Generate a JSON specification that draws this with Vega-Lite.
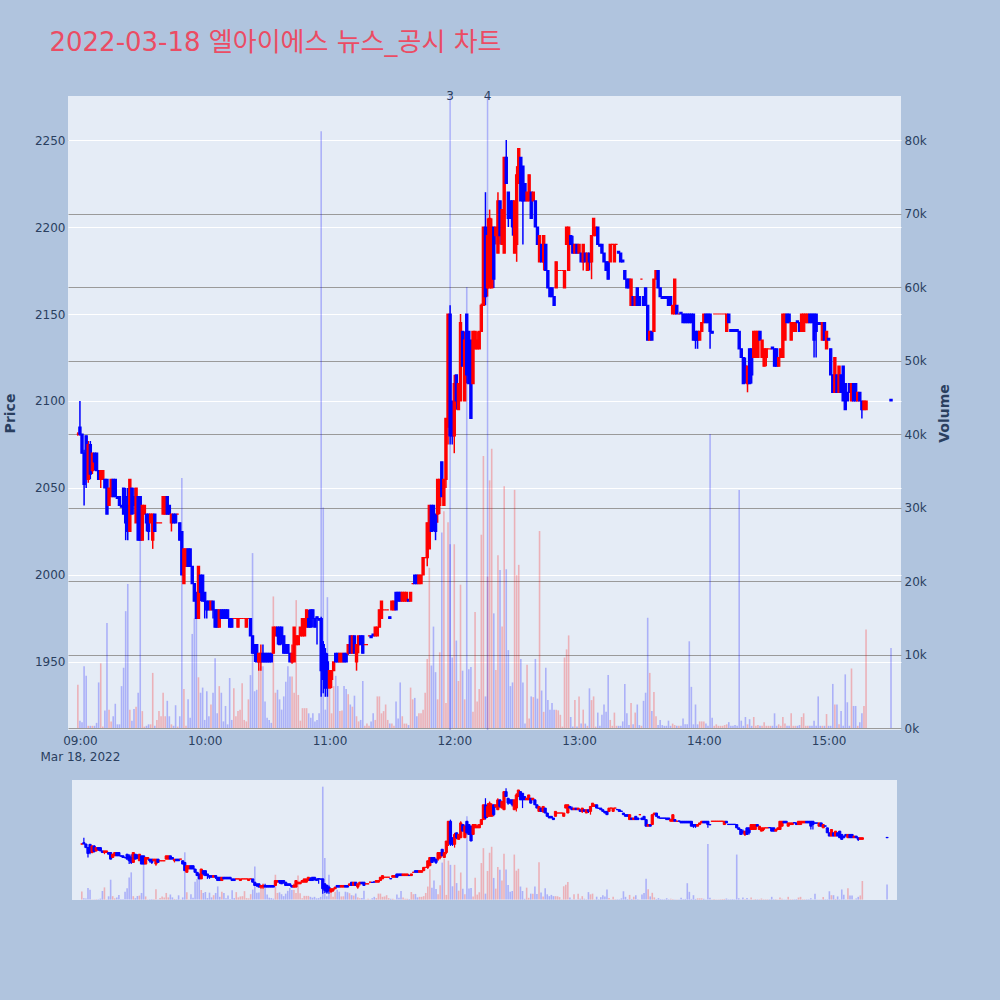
{
"$schema": "https://vega.github.io/schema/vega-lite/v6.json",
"background": "#B0C4DE",
"padding": {"left": 3, "top": 30, "right": 60, "bottom": 110},
"title": {"text": "2022-03-18 엘아이에스 뉴스_공시 차트", "anchor": "start", "fontSize": 26, "font": "DejaVu Sans, Noto Sans CJK KR", "fontWeight": "normal", "color": "#EB4C64", "offset": 34, "dx": 46},
"data": {"format": {"parse": {"t": "utc:'%H:%M'"}}, "values": [
{"t":"08:59","o":2081,"h":2082,"l":2080,"c":2081,"v":5900},
{"t":"09:00","o":2085,"h":2100,"l":2080,"c":2081,"v":1000},
{"t":"09:01","o":2081,"h":2081,"l":2070,"c":2070,"v":800},
{"t":"09:02","o":2070,"h":2072,"l":2040,"c":2052,"v":8400},
{"t":"09:03","o":2080,"h":2080,"l":2050,"c":2055,"v":7100},
{"t":"09:04","o":2055,"h":2077,"l":2053,"c":2075,"v":300},
{"t":"09:05","o":2075,"h":2077,"l":2055,"c":2058,"v":300},
{"t":"09:06","o":2060,"h":2070,"l":2058,"c":2070,"v":300},
{"t":"09:07","o":2070,"h":2070,"l":2060,"c":2065,"v":300},
{"t":"09:08","o":2070,"h":2070,"l":2060,"c":2060,"v":700},
{"t":"09:09","o":2060,"h":2060,"l":2055,"c":2055,"v":6200},
{"t":"09:10","o":2055,"h":2060,"l":2050,"c":2060,"v":8800},
{"t":"09:11","o":2055,"h":2060,"l":2055,"c":2060,"v":200},
{"t":"09:12","o":2055,"h":2055,"l":2050,"c":2050,"v":2400},
{"t":"09:13","o":2055,"h":2055,"l":2035,"c":2035,"v":14300},
{"t":"09:14","o":2040,"h":2050,"l":2040,"c":2050,"v":2500},
{"t":"09:15","o":2045,"h":2055,"l":2045,"c":2055,"v":900},
{"t":"09:16","o":2055,"h":2055,"l":2045,"c":2045,"v":1600},
{"t":"09:17","o":2055,"h":2055,"l":2045,"c":2045,"v":3300},
{"t":"09:18","o":2045,"h":2045,"l":2044,"c":2044,"v":500},
{"t":"09:19","o":2045,"h":2045,"l":2040,"c":2040,"v":500},
{"t":"09:20","o":2040,"h":2040,"l":2039,"c":2039,"v":5700},
{"t":"09:21","o":2050,"h":2050,"l":2035,"c":2035,"v":8200},
{"t":"09:22","o":2045,"h":2050,"l":2020,"c":2030,"v":15900},
{"t":"09:23","o":2040,"h":2050,"l":2020,"c":2025,"v":19600},
{"t":"09:24","o":2025,"h":2055,"l":2025,"c":2055,"v":2500},
{"t":"09:25","o":2050,"h":2050,"l":2035,"c":2035,"v":1000},
{"t":"09:26","o":2045,"h":2050,"l":2035,"c":2040,"v":2600},
{"t":"09:27","o":2030,"h":2050,"l":2030,"c":2050,"v":2900},
{"t":"09:28","o":2045,"h":2045,"l":2020,"c":2020,"v":4800},
{"t":"09:29","o":2045,"h":2045,"l":2020,"c":2020,"v":31000},
{"t":"09:30","o":2020,"h":2040,"l":2020,"c":2040,"v":2300},
{"t":"09:31","o":2035,"h":2040,"l":2035,"c":2040,"v":200},
{"t":"09:32","o":2035,"h":2035,"l":2025,"c":2030,"v":300},
{"t":"09:33","o":2035,"h":2035,"l":2020,"c":2025,"v":500},
{"t":"09:34","o":2030,"h":2035,"l":2030,"c":2035,"v":500},
{"t":"09:35","o":2020,"h":2035,"l":2015,"c":2035,"v":7500},
{"t":"09:36","o":2035,"h":2035,"l":2025,"c":2025,"v":300},
{"t":"09:37","o":2030,"h":2030,"l":2030,"c":2030,"v":1100},
{"t":"09:38","o":2030,"h":2030,"l":2030,"c":2030,"v":2300},
{"t":"09:39","o":2030,"h":2030,"l":2030,"c":2030,"v":1600},
{"t":"09:40","o":2035,"h":2045,"l":2035,"c":2045,"v":4800},
{"t":"09:41","o":2035,"h":2045,"l":2035,"c":2045,"v":1600},
{"t":"09:42","o":2045,"h":2045,"l":2035,"c":2035,"v":3700},
{"t":"09:43","o":2040,"h":2040,"l":2035,"c":2035,"v":1600},
{"t":"09:44","o":2030,"h":2035,"l":2025,"c":2035,"v":500},
{"t":"09:45","o":2035,"h":2035,"l":2030,"c":2030,"v":300},
{"t":"09:46","o":2035,"h":2035,"l":2030,"c":2030,"v":3100},
{"t":"09:47","o":2035,"h":2035,"l":2035,"c":2035,"v":200},
{"t":"09:48","o":2030,"h":2030,"l":2020,"c":2020,"v":1600},
{"t":"09:49","o":2025,"h":2025,"l":2000,"c":2000,"v":34000},
{"t":"09:50","o":1995,"h":2015,"l":1995,"c":2015,"v":5300},
{"t":"09:51","o":2005,"h":2015,"l":2005,"c":2015,"v":300},
{"t":"09:52","o":2015,"h":2015,"l":2005,"c":2005,"v":3900},
{"t":"09:53","o":2015,"h":2015,"l":2005,"c":2005,"v":1400},
{"t":"09:54","o":2005,"h":2005,"l":1995,"c":1995,"v":12800},
{"t":"09:55","o":1995,"h":1995,"l":1985,"c":1985,"v":14900},
{"t":"09:56","o":1990,"h":1990,"l":1975,"c":1975,"v":14900},
{"t":"09:57","o":1975,"h":2005,"l":1975,"c":2005,"v":6900},
{"t":"09:58","o":2000,"h":2000,"l":1985,"c":1990,"v":4800},
{"t":"09:59","o":2000,"h":2000,"l":1985,"c":1985,"v":5500},
{"t":"10:00","o":1990,"h":1990,"l":1975,"c":1985,"v":1100},
{"t":"10:01","o":1985,"h":1985,"l":1975,"c":1980,"v":5000},
{"t":"10:02","o":1985,"h":1985,"l":1980,"c":1980,"v":1600},
{"t":"10:03","o":1980,"h":1985,"l":1980,"c":1985,"v":3200},
{"t":"10:04","o":1985,"h":1985,"l":1975,"c":1980,"v":4800},
{"t":"10:05","o":1980,"h":1980,"l":1970,"c":1970,"v":9500},
{"t":"10:06","o":1980,"h":1980,"l":1970,"c":1970,"v":2000},
{"t":"10:07","o":1970,"h":1980,"l":1970,"c":1980,"v":5700},
{"t":"10:08","o":1980,"h":1980,"l":1975,"c":1975,"v":4800},
{"t":"10:09","o":1980,"h":1980,"l":1975,"c":1975,"v":900},
{"t":"10:10","o":1980,"h":1980,"l":1975,"c":1975,"v":3000},
{"t":"10:11","o":1980,"h":1980,"l":1975,"c":1975,"v":500},
{"t":"10:12","o":1975,"h":1975,"l":1970,"c":1970,"v":6800},
{"t":"10:13","o":1975,"h":1975,"l":1970,"c":1970,"v":1100},
{"t":"10:14","o":1975,"h":1975,"l":1975,"c":1975,"v":5400},
{"t":"10:15","o":1975,"h":1975,"l":1975,"c":1975,"v":1600},
{"t":"10:16","o":1970,"h":1975,"l":1970,"c":1975,"v":2300},
{"t":"10:17","o":1975,"h":1975,"l":1975,"c":1975,"v":2500},
{"t":"10:18","o":1975,"h":1975,"l":1975,"c":1975,"v":6100},
{"t":"10:19","o":1975,"h":1975,"l":1975,"c":1975,"v":1100},
{"t":"10:20","o":1970,"h":1975,"l":1970,"c":1975,"v":900},
{"t":"10:21","o":1975,"h":1975,"l":1975,"c":1975,"v":3900},
{"t":"10:22","o":1975,"h":1975,"l":1965,"c":1965,"v":7200},
{"t":"10:23","o":1965,"h":1965,"l":1955,"c":1955,"v":23800},
{"t":"10:24","o":1960,"h":1960,"l":1950,"c":1955,"v":5000},
{"t":"10:25","o":1960,"h":1960,"l":1950,"c":1950,"v":5200},
{"t":"10:26","o":1950,"h":1955,"l":1945,"c":1955,"v":8200},
{"t":"10:27","o":1950,"h":1960,"l":1945,"c":1955,"v":8400},
{"t":"10:28","o":1955,"h":1960,"l":1950,"c":1950,"v":8400},
{"t":"10:29","o":1955,"h":1955,"l":1950,"c":1950,"v":3600},
{"t":"10:30","o":1955,"h":1955,"l":1950,"c":1950,"v":1400},
{"t":"10:31","o":1955,"h":1955,"l":1950,"c":1950,"v":1100},
{"t":"10:32","o":1955,"h":1955,"l":1950,"c":1950,"v":700},
{"t":"10:33","o":1955,"h":1970,"l":1955,"c":1970,"v":17900},
{"t":"10:34","o":1965,"h":1970,"l":1965,"c":1970,"v":4800},
{"t":"10:35","o":1970,"h":1970,"l":1960,"c":1965,"v":5200},
{"t":"10:36","o":1970,"h":1970,"l":1960,"c":1960,"v":3900},
{"t":"10:37","o":1970,"h":1970,"l":1960,"c":1965,"v":2500},
{"t":"10:38","o":1965,"h":1965,"l":1955,"c":1955,"v":4300},
{"t":"10:39","o":1960,"h":1960,"l":1955,"c":1955,"v":6300},
{"t":"10:40","o":1960,"h":1960,"l":1955,"c":1955,"v":8400},
{"t":"10:41","o":1955,"h":1955,"l":1950,"c":1950,"v":7000},
{"t":"10:42","o":1950,"h":1960,"l":1949,"c":1955,"v":7000},
{"t":"10:43","o":1950,"h":1970,"l":1950,"c":1970,"v":4800},
{"t":"10:44","o":1960,"h":1965,"l":1960,"c":1965,"v":17400},
{"t":"10:45","o":1960,"h":1965,"l":1960,"c":1965,"v":4500},
{"t":"10:46","o":1965,"h":1970,"l":1965,"c":1970,"v":1000},
{"t":"10:47","o":1965,"h":1975,"l":1965,"c":1975,"v":2700},
{"t":"10:48","o":1965,"h":1975,"l":1965,"c":1975,"v":2700},
{"t":"10:49","o":1970,"h":1980,"l":1970,"c":1980,"v":2700},
{"t":"10:50","o":1975,"h":1980,"l":1970,"c":1970,"v":2000},
{"t":"10:51","o":1980,"h":1980,"l":1970,"c":1970,"v":1400},
{"t":"10:52","o":1980,"h":1980,"l":1970,"c":1975,"v":2000},
{"t":"10:53","o":1975,"h":1975,"l":1970,"c":1970,"v":900},
{"t":"10:54","o":1976,"h":1976,"l":1960,"c":1975,"v":1100},
{"t":"10:55","o":1975,"h":1975,"l":1974,"c":1974,"v":2000},
{"t":"10:56","o":1975,"h":1976,"l":1930,"c":1945,"v":81200},
{"t":"10:57","o":1960,"h":1962,"l":1932,"c":1940,"v":30000},
{"t":"10:58","o":1955,"h":1958,"l":1930,"c":1935,"v":2500},
{"t":"10:59","o":1950,"h":1955,"l":1930,"c":1940,"v":17800},
{"t":"11:00","o":1935,"h":1945,"l":1935,"c":1945,"v":5300},
{"t":"11:01","o":1940,"h":1945,"l":1935,"c":1945,"v":2000},
{"t":"11:02","o":1945,"h":1950,"l":1945,"c":1950,"v":5700},
{"t":"11:03","o":1955,"h":1955,"l":1950,"c":1950,"v":7100},
{"t":"11:04","o":1955,"h":1955,"l":1950,"c":1950,"v":5700},
{"t":"11:05","o":1950,"h":1955,"l":1950,"c":1955,"v":2300},
{"t":"11:06","o":1950,"h":1955,"l":1950,"c":1955,"v":2400},
{"t":"11:07","o":1955,"h":1955,"l":1950,"c":1950,"v":5700},
{"t":"11:08","o":1955,"h":1955,"l":1950,"c":1950,"v":5300},
{"t":"11:09","o":1955,"h":1960,"l":1954,"c":1960,"v":4600},
{"t":"11:10","o":1965,"h":1965,"l":1955,"c":1955,"v":3200},
{"t":"11:11","o":1955,"h":1965,"l":1955,"c":1965,"v":2900},
{"t":"11:12","o":1965,"h":1965,"l":1955,"c":1955,"v":4400},
{"t":"11:13","o":1950,"h":1960,"l":1945,"c":1960,"v":1600},
{"t":"11:14","o":1960,"h":1965,"l":1955,"c":1965,"v":900},
{"t":"11:15","o":1965,"h":1965,"l":1960,"c":1960,"v":1100},
{"t":"11:16","o":1965,"h":1965,"l":1955,"c":1955,"v":6400},
{"t":"11:17","o":1960,"h":1960,"l":1960,"c":1960,"v":300},
{"t":"11:18","o":1960,"h":1960,"l":1960,"c":1960,"v":600},
{"t":"11:19","o":1965,"h":1965,"l":1965,"c":1965,"v":300},
{"t":"11:20","o":1965,"h":1965,"l":1964,"c":1964,"v":900},
{"t":"11:21","o":1966,"h":1966,"l":1965,"c":1965,"v":2000},
{"t":"11:22","o":1965,"h":1970,"l":1965,"c":1970,"v":1100},
{"t":"11:23","o":1965,"h":1970,"l":1965,"c":1970,"v":4300},
{"t":"11:24","o":1970,"h":1980,"l":1970,"c":1980,"v":4300},
{"t":"11:25","o":1975,"h":1985,"l":1975,"c":1985,"v":2000},
{"t":"11:26","o":1980,"h":1980,"l":1980,"c":1980,"v":2300},
{"t":"11:27","o":1980,"h":1980,"l":1980,"c":1980,"v":3200},
{"t":"11:28","o":1980,"h":1980,"l":1980,"c":1980,"v":1100},
{"t":"11:29","o":1976,"h":1976,"l":1975,"c":1975,"v":600},
{"t":"11:30","o":1980,"h":1985,"l":1980,"c":1985,"v":600},
{"t":"11:31","o":1980,"h":1985,"l":1980,"c":1985,"v":300},
{"t":"11:32","o":1990,"h":1990,"l":1980,"c":1980,"v":3600},
{"t":"11:33","o":1990,"h":1990,"l":1985,"c":1985,"v":1300},
{"t":"11:34","o":1990,"h":1990,"l":1985,"c":1985,"v":6200},
{"t":"11:35","o":1985,"h":1990,"l":1985,"c":1990,"v":1600},
{"t":"11:36","o":1985,"h":1990,"l":1985,"c":1990,"v":600},
{"t":"11:37","o":1985,"h":1990,"l":1985,"c":1990,"v":600},
{"t":"11:38","o":1986,"h":1986,"l":1985,"c":1985,"v":400},
{"t":"11:39","o":1985,"h":1990,"l":1985,"c":1990,"v":5500},
{"t":"11:40","o":1995,"h":1995,"l":1995,"c":1995,"v":3900},
{"t":"11:41","o":2000,"h":2000,"l":1995,"c":1995,"v":4100},
{"t":"11:42","o":2000,"h":2000,"l":1995,"c":1995,"v":1600},
{"t":"11:43","o":1995,"h":2000,"l":1995,"c":2000,"v":2000},
{"t":"11:44","o":1995,"h":2000,"l":1995,"c":2000,"v":2000},
{"t":"11:45","o":2000,"h":2010,"l":2000,"c":2010,"v":2500},
{"t":"11:46","o":2010,"h":2010,"l":2010,"c":2010,"v":4800},
{"t":"11:47","o":2010,"h":2030,"l":2005,"c":2030,"v":9400},
{"t":"11:48","o":2015,"h":2040,"l":2015,"c":2040,"v":21800},
{"t":"11:49","o":2040,"h":2040,"l":2025,"c":2025,"v":8500},
{"t":"11:50","o":2040,"h":2040,"l":2025,"c":2030,"v":13800},
{"t":"11:51","o":2035,"h":2035,"l":2020,"c":2025,"v":7600},
{"t":"11:52","o":2035,"h":2055,"l":2030,"c":2055,"v":3900},
{"t":"11:53","o":2040,"h":2055,"l":2035,"c":2055,"v":10300},
{"t":"11:54","o":2065,"h":2065,"l":2045,"c":2045,"v":26600},
{"t":"11:55","o":2040,"h":2055,"l":2040,"c":2055,"v":29500},
{"t":"11:56","o":2055,"h":2090,"l":2050,"c":2090,"v":3400},
{"t":"11:57","o":2085,"h":2150,"l":2075,"c":2150,"v":28000},
{"t":"11:58","o":2150,"h":2155,"l":2075,"c":2080,"v":25000,"n":"3"},
{"t":"11:59","o":2100,"h":2100,"l":2075,"c":2080,"v":9600},
{"t":"12:00","o":2080,"h":2115,"l":2070,"c":2110,"v":25000},
{"t":"12:01","o":2115,"h":2115,"l":2095,"c":2100,"v":11900},
{"t":"12:02","o":2095,"h":2110,"l":2095,"c":2110,"v":6400},
{"t":"12:03","o":2100,"h":2150,"l":2100,"c":2145,"v":19500},
{"t":"12:04","o":2140,"h":2140,"l":2120,"c":2120,"v":7800},
{"t":"12:05","o":2100,"h":2140,"l":2100,"c":2135,"v":3900},
{"t":"12:06","o":2150,"h":2150,"l":2110,"c":2115,"v":60000},
{"t":"12:07","o":2140,"h":2140,"l":2110,"c":2110,"v":8000},
{"t":"12:08","o":2135,"h":2135,"l":2090,"c":2090,"v":8300},
{"t":"12:09","o":2110,"h":2140,"l":2110,"c":2140,"v":2200},
{"t":"12:10","o":2130,"h":2140,"l":2130,"c":2140,"v":15800},
{"t":"12:11","o":2130,"h":2140,"l":2130,"c":2135,"v":3600},
{"t":"12:12","o":2130,"h":2140,"l":2130,"c":2140,"v":5300},
{"t":"12:13","o":2140,"h":2156,"l":2140,"c":2155,"v":26300},
{"t":"12:14","o":2155,"h":2200,"l":2155,"c":2200,"v":37000},
{"t":"12:15","o":2200,"h":2220,"l":2155,"c":2160,"v":4300},
{"t":"12:16","o":2165,"h":2205,"l":2160,"c":2195,"v":20600,"n":"4"},
{"t":"12:17","o":2165,"h":2210,"l":2165,"c":2205,"v":33700},
{"t":"12:18","o":2165,"h":2205,"l":2165,"c":2200,"v":38000},
{"t":"12:19","o":2200,"h":2200,"l":2165,"c":2170,"v":15600},
{"t":"12:20","o":2195,"h":2200,"l":2190,"c":2200,"v":7900},
{"t":"12:21","o":2185,"h":2220,"l":2185,"c":2215,"v":23500},
{"t":"12:22","o":2215,"h":2215,"l":2190,"c":2195,"v":21500},
{"t":"12:23","o":2190,"h":2210,"l":2190,"c":2210,"v":13800},
{"t":"12:24","o":2185,"h":2240,"l":2185,"c":2240,"v":32900},
{"t":"12:25","o":2240,"h":2250,"l":2225,"c":2225,"v":21600},
{"t":"12:26","o":2220,"h":2220,"l":2200,"c":2205,"v":10600},
{"t":"12:27","o":2215,"h":2215,"l":2205,"c":2205,"v":5700},
{"t":"12:28","o":2215,"h":2215,"l":2195,"c":2200,"v":6200},
{"t":"12:29","o":2185,"h":2215,"l":2185,"c":2215,"v":32400},
{"t":"12:30","o":2190,"h":2235,"l":2180,"c":2230,"v":20800},
{"t":"12:31","o":2225,"h":2245,"l":2225,"c":2245,"v":22200},
{"t":"12:32","o":2240,"h":2240,"l":2215,"c":2215,"v":9400},
{"t":"12:33","o":2235,"h":2235,"l":2190,"c":2215,"v":6200},
{"t":"12:34","o":2225,"h":2225,"l":2215,"c":2215,"v":600},
{"t":"12:35","o":2215,"h":2220,"l":2215,"c":2220,"v":8600},
{"t":"12:36","o":2215,"h":2230,"l":2215,"c":2230,"v":1300},
{"t":"12:37","o":2220,"h":2220,"l":2205,"c":2205,"v":4300},
{"t":"12:38","o":2215,"h":2220,"l":2215,"c":2220,"v":4200},
{"t":"12:39","o":2215,"h":2215,"l":2200,"c":2200,"v":9400},
{"t":"12:40","o":2200,"h":2200,"l":2190,"c":2190,"v":4000},
{"t":"12:41","o":2180,"h":2195,"l":2180,"c":2195,"v":26800},
{"t":"12:42","o":2190,"h":2190,"l":2180,"c":2180,"v":5100},
{"t":"12:43","o":2180,"h":2195,"l":2175,"c":2195,"v":2200},
{"t":"12:44","o":2190,"h":2190,"l":2175,"c":2175,"v":8200},
{"t":"12:45","o":2175,"h":2175,"l":2165,"c":2165,"v":3800},
{"t":"12:46","o":2165,"h":2165,"l":2160,"c":2160,"v":2500},
{"t":"12:47","o":2165,"h":2165,"l":2160,"c":2160,"v":3400},
{"t":"12:48","o":2160,"h":2160,"l":2155,"c":2155,"v":2500},
{"t":"12:49","o":2165,"h":2180,"l":2165,"c":2180,"v":2500},
{"t":"12:50","o":2175,"h":2175,"l":2175,"c":2175,"v":2400},
{"t":"12:51","o":2175,"h":2175,"l":2175,"c":2175,"v":1800},
{"t":"12:52","o":2175,"h":2175,"l":2175,"c":2175,"v":200},
{"t":"12:53","o":2165,"h":2175,"l":2165,"c":2175,"v":9600},
{"t":"12:54","o":2190,"h":2200,"l":2190,"c":2200,"v":10700},
{"t":"12:55","o":2175,"h":2200,"l":2175,"c":2200,"v":12600},
{"t":"12:56","o":2195,"h":2195,"l":2190,"c":2190,"v":1500},
{"t":"12:57","o":2190,"h":2195,"l":2185,"c":2185,"v":200},
{"t":"12:58","o":2185,"h":2190,"l":2185,"c":2190,"v":3800},
{"t":"12:59","o":2190,"h":2190,"l":2185,"c":2185,"v":200},
{"t":"13:00","o":2185,"h":2190,"l":2185,"c":2190,"v":4300},
{"t":"13:01","o":2185,"h":2185,"l":2180,"c":2180,"v":600},
{"t":"13:02","o":2180,"h":2190,"l":2175,"c":2190,"v":2500},
{"t":"13:03","o":2185,"h":2185,"l":2180,"c":2180,"v":600},
{"t":"13:04","o":2175,"h":2185,"l":2175,"c":2185,"v":300},
{"t":"13:05","o":2185,"h":2185,"l":2175,"c":2180,"v":5400},
{"t":"13:06","o":2180,"h":2195,"l":2170,"c":2195,"v":3800},
{"t":"13:07","o":2195,"h":2205,"l":2195,"c":2205,"v":4300},
{"t":"13:08","o":2195,"h":2200,"l":2195,"c":2200,"v":200},
{"t":"13:09","o":2200,"h":2200,"l":2190,"c":2190,"v":2100},
{"t":"13:10","o":2190,"h":2190,"l":2189,"c":2189,"v":300},
{"t":"13:11","o":2190,"h":2190,"l":2185,"c":2185,"v":1800},
{"t":"13:12","o":2185,"h":2185,"l":2180,"c":2180,"v":3200},
{"t":"13:13","o":2180,"h":2180,"l":2175,"c":2175,"v":2200},
{"t":"13:14","o":2180,"h":2180,"l":2170,"c":2170,"v":7200},
{"t":"13:15","o":2180,"h":2190,"l":2180,"c":2190,"v":1100},
{"t":"13:16","o":2190,"h":2190,"l":2190,"c":2190,"v":300},
{"t":"13:17","o":2180,"h":2190,"l":2180,"c":2190,"v":2100},
{"t":"13:18","o":2190,"h":2190,"l":2190,"c":2190,"v":300},
{"t":"13:19","o":2186,"h":2186,"l":2185,"c":2185,"v":300},
{"t":"13:20","o":2185,"h":2185,"l":2180,"c":2180,"v":300},
{"t":"13:21","o":2181,"h":2181,"l":2180,"c":2180,"v":900},
{"t":"13:22","o":2175,"h":2175,"l":2170,"c":2170,"v":6000},
{"t":"13:23","o":2170,"h":2170,"l":2165,"c":2165,"v":2000},
{"t":"13:24","o":2170,"h":2170,"l":2165,"c":2165,"v":400},
{"t":"13:25","o":2155,"h":2170,"l":2155,"c":2170,"v":3400},
{"t":"13:26","o":2160,"h":2160,"l":2155,"c":2155,"v":500},
{"t":"13:27","o":2155,"h":2160,"l":2155,"c":2160,"v":2100},
{"t":"13:28","o":2165,"h":2165,"l":2155,"c":2155,"v":3200},
{"t":"13:29","o":2160,"h":2160,"l":2155,"c":2155,"v":400},
{"t":"13:30","o":2170,"h":2170,"l":2170,"c":2170,"v":300},
{"t":"13:31","o":2160,"h":2160,"l":2155,"c":2155,"v":3700},
{"t":"13:32","o":2165,"h":2165,"l":2155,"c":2155,"v":4800},
{"t":"13:33","o":2155,"h":2155,"l":2135,"c":2135,"v":15000},
{"t":"13:34","o":2135,"h":2140,"l":2135,"c":2140,"v":7500},
{"t":"13:35","o":2140,"h":2140,"l":2135,"c":2135,"v":2300},
{"t":"13:36","o":2140,"h":2170,"l":2140,"c":2170,"v":4900},
{"t":"13:37","o":2170,"h":2175,"l":2170,"c":2175,"v":1600},
{"t":"13:38","o":2175,"h":2175,"l":2165,"c":2165,"v":400},
{"t":"13:39","o":2165,"h":2165,"l":2160,"c":2160,"v":1100},
{"t":"13:40","o":2160,"h":2160,"l":2159,"c":2159,"v":400},
{"t":"13:41","o":2160,"h":2160,"l":2159,"c":2159,"v":300},
{"t":"13:42","o":2160,"h":2160,"l":2159,"c":2159,"v":300},
{"t":"13:43","o":2160,"h":2160,"l":2155,"c":2155,"v":1000},
{"t":"13:44","o":2160,"h":2160,"l":2155,"c":2155,"v":300},
{"t":"13:45","o":2150,"h":2155,"l":2150,"c":2155,"v":600},
{"t":"13:46","o":2150,"h":2170,"l":2150,"c":2170,"v":400},
{"t":"13:47","o":2155,"h":2155,"l":2150,"c":2150,"v":300},
{"t":"13:48","o":2150,"h":2150,"l":2150,"c":2150,"v":300},
{"t":"13:49","o":2151,"h":2151,"l":2150,"c":2150,"v":300},
{"t":"13:50","o":2150,"h":2150,"l":2145,"c":2145,"v":1300},
{"t":"13:51","o":2150,"h":2150,"l":2145,"c":2145,"v":500},
{"t":"13:52","o":2150,"h":2150,"l":2145,"c":2145,"v":500},
{"t":"13:53","o":2150,"h":2150,"l":2145,"c":2145,"v":11800},
{"t":"13:54","o":2150,"h":2150,"l":2145,"c":2145,"v":5600},
{"t":"13:55","o":2150,"h":2150,"l":2135,"c":2135,"v":500},
{"t":"13:56","o":2140,"h":2140,"l":2130,"c":2135,"v":3200},
{"t":"13:57","o":2140,"h":2140,"l":2130,"c":2135,"v":500},
{"t":"13:58","o":2135,"h":2140,"l":2135,"c":2140,"v":900},
{"t":"13:59","o":2140,"h":2145,"l":2140,"c":2145,"v":900},
{"t":"14:00","o":2145,"h":2150,"l":2145,"c":2150,"v":900},
{"t":"14:01","o":2150,"h":2150,"l":2145,"c":2145,"v":600},
{"t":"14:02","o":2150,"h":2150,"l":2145,"c":2145,"v":300},
{"t":"14:03","o":2150,"h":2150,"l":2130,"c":2140,"v":40000},
{"t":"14:04","o":2140,"h":2140,"l":2139,"c":2139,"v":1400},
{"t":"14:05","o":2150,"h":2150,"l":2150,"c":2150,"v":300},
{"t":"14:06","o":2150,"h":2150,"l":2150,"c":2150,"v":500},
{"t":"14:07","o":2150,"h":2150,"l":2150,"c":2150,"v":300},
{"t":"14:08","o":2150,"h":2150,"l":2150,"c":2150,"v":300},
{"t":"14:09","o":2150,"h":2150,"l":2150,"c":2150,"v":300},
{"t":"14:10","o":2150,"h":2150,"l":2150,"c":2150,"v":400},
{"t":"14:11","o":2140,"h":2150,"l":2140,"c":2150,"v":500},
{"t":"14:12","o":2150,"h":2150,"l":2145,"c":2145,"v":800},
{"t":"14:13","o":2141,"h":2141,"l":2140,"c":2140,"v":300},
{"t":"14:14","o":2141,"h":2141,"l":2140,"c":2140,"v":300},
{"t":"14:15","o":2141,"h":2141,"l":2140,"c":2140,"v":400},
{"t":"14:16","o":2141,"h":2141,"l":2140,"c":2140,"v":300},
{"t":"14:17","o":2140,"h":2140,"l":2130,"c":2130,"v":32400},
{"t":"14:18","o":2130,"h":2130,"l":2125,"c":2125,"v":1000},
{"t":"14:19","o":2125,"h":2125,"l":2110,"c":2110,"v":300},
{"t":"14:20","o":2120,"h":2125,"l":2110,"c":2115,"v":1500},
{"t":"14:21","o":2110,"h":2120,"l":2105,"c":2120,"v":500},
{"t":"14:22","o":2130,"h":2130,"l":2110,"c":2110,"v":1200},
{"t":"14:23","o":2130,"h":2130,"l":2110,"c":2115,"v":300},
{"t":"14:24","o":2125,"h":2140,"l":2125,"c":2140,"v":1500},
{"t":"14:25","o":2125,"h":2140,"l":2125,"c":2140,"v":300},
{"t":"14:26","o":2125,"h":2140,"l":2125,"c":2140,"v":400},
{"t":"14:27","o":2140,"h":2140,"l":2135,"c":2135,"v":300},
{"t":"14:28","o":2125,"h":2135,"l":2125,"c":2135,"v":300},
{"t":"14:29","o":2120,"h":2130,"l":2120,"c":2130,"v":800},
{"t":"14:30","o":2125,"h":2130,"l":2120,"c":2130,"v":300},
{"t":"14:31","o":2130,"h":2130,"l":2130,"c":2130,"v":300},
{"t":"14:32","o":2130,"h":2130,"l":2130,"c":2130,"v":300},
{"t":"14:33","o":2131,"h":2131,"l":2130,"c":2130,"v":300},
{"t":"14:34","o":2130,"h":2130,"l":2120,"c":2120,"v":2000},
{"t":"14:35","o":2130,"h":2130,"l":2120,"c":2120,"v":300},
{"t":"14:36","o":2120,"h":2125,"l":2120,"c":2125,"v":500},
{"t":"14:37","o":2125,"h":2130,"l":2125,"c":2130,"v":300},
{"t":"14:38","o":2125,"h":2150,"l":2125,"c":2150,"v":1500},
{"t":"14:39","o":2135,"h":2150,"l":2135,"c":2150,"v":600},
{"t":"14:40","o":2150,"h":2150,"l":2145,"c":2145,"v":300},
{"t":"14:41","o":2150,"h":2150,"l":2145,"c":2145,"v":300},
{"t":"14:42","o":2135,"h":2145,"l":2135,"c":2145,"v":2000},
{"t":"14:43","o":2140,"h":2145,"l":2140,"c":2145,"v":300},
{"t":"14:44","o":2140,"h":2145,"l":2140,"c":2145,"v":300},
{"t":"14:45","o":2146,"h":2146,"l":2145,"c":2145,"v":300},
{"t":"14:46","o":2145,"h":2145,"l":2140,"c":2140,"v":400},
{"t":"14:47","o":2140,"h":2150,"l":2140,"c":2150,"v":1500},
{"t":"14:48","o":2140,"h":2150,"l":2140,"c":2150,"v":2000},
{"t":"14:49","o":2145,"h":2150,"l":2145,"c":2150,"v":300},
{"t":"14:50","o":2145,"h":2150,"l":2145,"c":2150,"v":300},
{"t":"14:51","o":2150,"h":2150,"l":2145,"c":2145,"v":300},
{"t":"14:52","o":2150,"h":2150,"l":2145,"c":2145,"v":300},
{"t":"14:53","o":2150,"h":2150,"l":2125,"c":2135,"v":1000},
{"t":"14:54","o":2150,"h":2150,"l":2125,"c":2140,"v":300},
{"t":"14:55","o":2145,"h":2145,"l":2144,"c":2144,"v":4300},
{"t":"14:56","o":2145,"h":2145,"l":2144,"c":2144,"v":300},
{"t":"14:57","o":2135,"h":2145,"l":2135,"c":2145,"v":300},
{"t":"14:58","o":2145,"h":2145,"l":2135,"c":2135,"v":300},
{"t":"14:59","o":2130,"h":2140,"l":2130,"c":2140,"v":1900},
{"t":"15:00","o":2136,"h":2136,"l":2135,"c":2135,"v":300},
{"t":"15:01","o":2130,"h":2130,"l":2115,"c":2115,"v":300},
{"t":"15:02","o":2115,"h":2115,"l":2105,"c":2105,"v":6000},
{"t":"15:03","o":2105,"h":2125,"l":2105,"c":2125,"v":3200},
{"t":"15:04","o":2115,"h":2115,"l":2105,"c":2105,"v":3200},
{"t":"15:05","o":2105,"h":2120,"l":2105,"c":2120,"v":500},
{"t":"15:06","o":2115,"h":2115,"l":2105,"c":2105,"v":2300},
{"t":"15:07","o":2120,"h":2120,"l":2100,"c":2100,"v":300},
{"t":"15:08","o":2110,"h":2110,"l":2095,"c":2095,"v":7300},
{"t":"15:09","o":2105,"h":2105,"l":2100,"c":2100,"v":3500},
{"t":"15:10","o":2110,"h":2110,"l":2105,"c":2105,"v":300},
{"t":"15:11","o":2100,"h":2110,"l":2100,"c":2110,"v":8100},
{"t":"15:12","o":2110,"h":2110,"l":2100,"c":2100,"v":3000},
{"t":"15:13","o":2110,"h":2110,"l":2100,"c":2100,"v":3000},
{"t":"15:14","o":2100,"h":2105,"l":2100,"c":2105,"v":300},
{"t":"15:15","o":2105,"h":2105,"l":2100,"c":2100,"v":800},
{"t":"15:16","o":2100,"h":2100,"l":2090,"c":2095,"v":2000},
{"t":"15:17","o":2095,"h":2100,"l":2095,"c":2100,"v":3000},
{"t":"15:18","o":2095,"h":2100,"l":2095,"c":2100,"v":13400},
{"t":"15:30","o":2101,"h":2101,"l":2100,"c":2100,"v":10900}
]},
"spacing": 50,
"bounds": "flush",
"center": true,
"resolve": {"scale": {"x": "independent", "y": "independent"}},
"vconcat": [
{
"width": 833, "height": 634,
"layer": [
{"mark": {"type": "bar", "width": 1.6, "opacity": 0.25},
 "encoding": {
  "x": {"field": "t", "type": "temporal", "title": null,
   "scale": {"type": "utc", "domain": [{"year": 1900, "month": 1, "date": 1, "hours": 8, "minutes": 56, "seconds": 40, "utc": true}, {"year": 1900, "month": 1, "date": 1, "hours": 15, "minutes": 32, "seconds": 24, "utc": true}]},
   "axis": {"values": [{"year": 1900, "month": 1, "date": 1, "hours": 9, "utc": true}, {"year": 1900, "month": 1, "date": 1, "hours": 10, "utc": true}, {"year": 1900, "month": 1, "date": 1, "hours": 11, "utc": true}, {"year": 1900, "month": 1, "date": 1, "hours": 12, "utc": true}, {"year": 1900, "month": 1, "date": 1, "hours": 13, "utc": true}, {"year": 1900, "month": 1, "date": 1, "hours": 14, "utc": true}, {"year": 1900, "month": 1, "date": 1, "hours": 15, "utc": true}],
    "labelExpr": "datum.index == 0 ? [utcFormat(datum.value, '%H:%M'), 'Mar 18, 2022'] : utcFormat(datum.value, '%H:%M')",
    "grid": false, "labelPadding": 5, "labelLineHeight": 16, "labelFlush": false, "labelOverlap": false}},
  "y": {"field": "v", "type": "quantitative", "title": "Volume",
   "scale": {"domain": [-270, 85990], "nice": false, "zero": false},
   "axis": {"orient": "right", "values": [0, 10000, 20000, 30000, 40000, 50000, 60000, 70000, 80000], "format": "~s", "grid": true, "gridColor": "#9a9a9a", "gridWidth": 1, "labelPadding": 3, "titlePadding": 25, "titleAngle": 270}},
  "color": {"condition": {"test": "datum.c >= datum.o", "value": "#ff0000"}, "value": "#0000ff"}
 }},
{"layer": [
 {"transform": [{"filter": "isValid(datum.n)"}],
  "mark": {"type": "rule", "color": "#0000ff", "opacity": 0.25, "strokeWidth": 1.5},
  "encoding": {"x": {"field": "t", "type": "temporal"}}},
 {"mark": {"type": "rule", "strokeWidth": 1.5},
  "encoding": {
   "x": {"field": "t", "type": "temporal"},
   "y": {"field": "l", "type": "quantitative", "title": "Price",
    "scale": {"domain": [1910.9, 2275.3], "nice": false, "zero": false},
    "axis": {"orient": "left", "values": [1950, 2000, 2050, 2100, 2150, 2200, 2250], "format": "d", "grid": true, "gridColor": "#ffffff", "gridWidth": 1, "labelPadding": 3, "titlePadding": 17}},
   "y2": {"field": "h"},
   "color": {"condition": {"test": "datum.c >= datum.o", "value": "#ff0000"}, "value": "#0000ff"}}},
 {"mark": {"type": "bar", "width": 2.2, "strokeWidth": 1.2},
  "encoding": {
   "x": {"field": "t", "type": "temporal"},
   "y": {"field": "o", "type": "quantitative", "title": "Price"},
   "y2": {"field": "c"},
   "color": {"condition": {"test": "datum.c >= datum.o", "value": "#ff0000"}, "value": "#0000ff"},
   "stroke": {"condition": {"test": "datum.c >= datum.o", "value": "#ff0000"}, "value": "#0000ff"}}},
 {"transform": [{"filter": "isValid(datum.n)"}],
  "mark": {"type": "text", "baseline": "middle", "fontSize": 12, "color": "#2a3f5f", "font": "DejaVu Sans"},
  "encoding": {"x": {"field": "t", "type": "temporal"}, "y": {"datum": 2275.3, "type": "quantitative"}, "text": {"field": "n", "type": "nominal"}}}
]}
],
"resolve": {"scale": {"y": "independent"}}
},
{
"width": 825, "height": 120,
"layer": [
{"mark": {"type": "bar", "width": 1.6, "opacity": 0.25},
 "encoding": {
  "x": {"field": "t", "type": "temporal", "axis": null,
   "scale": {"type": "utc", "domain": [{"year": 1900, "month": 1, "date": 1, "hours": 8, "minutes": 56, "seconds": 40, "utc": true}, {"year": 1900, "month": 1, "date": 1, "hours": 15, "minutes": 32, "seconds": 24, "utc": true}]}},
  "y": {"field": "v", "type": "quantitative", "axis": null, "scale": {"domain": [-270, 85990], "nice": false, "zero": false}},
  "color": {"condition": {"test": "datum.c >= datum.o", "value": "#ff0000"}, "value": "#0000ff"}
 }},
{"layer": [
 {"mark": {"type": "rule", "strokeWidth": 1.2},
  "encoding": {
   "x": {"field": "t", "type": "temporal"},
   "y": {"field": "l", "type": "quantitative", "axis": null, "scale": {"domain": [1910.9, 2275.3], "nice": false, "zero": false}},
   "y2": {"field": "h"},
   "color": {"condition": {"test": "datum.c >= datum.o", "value": "#ff0000"}, "value": "#0000ff"}}},
 {"mark": {"type": "bar", "width": 2.2, "strokeWidth": 1},
  "encoding": {
   "x": {"field": "t", "type": "temporal"},
   "y": {"field": "o", "type": "quantitative", "axis": null},
   "y2": {"field": "c"},
   "color": {"condition": {"test": "datum.c >= datum.o", "value": "#ff0000"}, "value": "#0000ff"},
   "stroke": {"condition": {"test": "datum.c >= datum.o", "value": "#ff0000"}, "value": "#0000ff"}}}
]}
],
"resolve": {"scale": {"y": "independent"}}
}
],
"config": {
 "view": {"fill": "#E5ECF6", "stroke": null},
 "font": "DejaVu Sans",
 "axis": {"labelFont": "DejaVu Sans", "titleFont": "DejaVu Sans", "labelColor": "#2a3f5f", "titleColor": "#2a3f5f", "labelFontSize": 12, "titleFontSize": 14, "titleFontWeight": "bold", "ticks": false, "domain": false}
}
}
